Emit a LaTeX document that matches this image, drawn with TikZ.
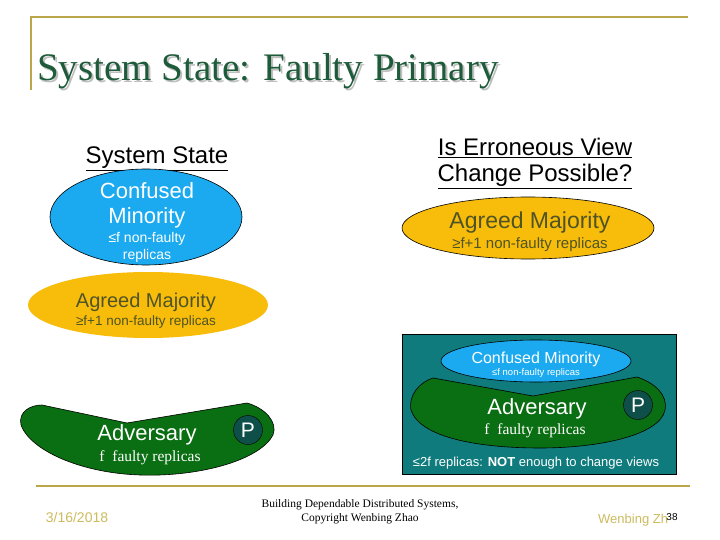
\documentclass[tikz,border=0pt]{standalone}
\usepackage{fontspec}
\setmainfont{Liberation Sans}
\newfontfamily\serifa{Liberation Serif}
\definecolor{titlegreen}{HTML}{1E5B3A}
\definecolor{cyanb}{HTML}{1BAAF0}
\definecolor{yellowb}{HTML}{F8BC0A}
\definecolor{olivetext}{HTML}{4F5426}
\definecolor{tealbox}{HTML}{0F7B7D}
\definecolor{greenb}{HTML}{0A6E12}
\definecolor{pcirc}{HTML}{0E4F4A}
\definecolor{gold}{HTML}{BBA64A}
\definecolor{footy}{HTML}{CDBB5E}
\begin{document}
\begin{tikzpicture}[x=1pt,y=-1pt,
  fs/.style={font=\fontsize{#1}{#1}\selectfont},
  fss/.style={font=\serifa\fontsize{#1}{#1}\selectfont},
  lbl/.style={inner sep=0pt,anchor=base},
  gshape/.style={fill=greenb,draw=black,line width=0.6pt},
  pnode/.style={circle,fill=pcirc,draw=black,minimum size=29pt,inner sep=0pt,text=white,font=\fontsize{21}{21}\selectfont}]
\useasboundingbox (0,0) rectangle (720,540);
\fill[white] (0,0) rectangle (720,540);
% frame
\draw[gold,line width=1.5pt] (31,90) -- (31,17) coordinate (fl) -- (688,17) coordinate (fr);
\node[lbl,anchor=base west,fss=39,text=gray!50] (tsh) at (39,83) {System State: Faulty Primary};
\node[lbl,anchor=base west,fss=39,text=titlegreen] (title) at (37,81) {System State: Faulty Primary};
% headings
\node[lbl,fs=24] (hs) at (157,164) {\underline{System State}};
\node[lbl,fs=24] (he1) at (535,156) {\underline{Is Erroneous View}};
\node[lbl,fs=24] (he2) at (535,182) {\underline{Change Possible?}};
% blue ellipse
\fill[cyanb,draw=black,line width=0.6pt] (146,217) ellipse [x radius=96,y radius=48];
\node[lbl,fs=22,text=white] (c1) at (147,199) {Confused};
\node[lbl,fs=22,text=white] (c2) at (147,224) {Minority};
\node[lbl,fs=14,text=white] (c3) at (147,243) {≤f non-faulty};
\node[lbl,fs=14,text=white] (c4) at (147,259) {replicas};
% right yellow
\fill[yellowb,draw=black,line width=0.6pt] (528,228) ellipse [x radius=126,y radius=31];
\node[lbl,fs=23,text=olivetext] (a1) at (530,229) {Agreed Majority};
\node[lbl,fs=15,text=olivetext] (a2) at (530,248) {≥f+1 non-faulty replicas};
% left yellow
\fill[yellowb] (148,305) ellipse [x radius=120,y radius=33];
\node[lbl,fs=20,text=olivetext] (b1) at (146,307) {Agreed Majority};
\node[lbl,fs=13.5,text=olivetext] (b2) at (146,325) {≥f+1 non-faulty replicas};
% left green
\path[gshape] (42,405) -- (127,423) -- (247,403)
  .. controls (265,408) and (278,422) .. (273,435)
  .. controls (260,460) and (200,477) .. (140,475)
  .. controls (80,473) and (30,450) .. (21,425)
  .. controls (18,412) and (30,405) .. cycle;
\node[lbl,fs=22,text=white] (adv1) at (147,440) {Adversary};
\node[lbl,fss=15.5,text=white] (ff1) at (150,461) {f\ \ faulty replicas};
\node[pnode] (p1) at (248,430) {P};
% teal box
\fill[tealbox,draw=black,line width=0.6pt] (402,334) rectangle (676,474);
\fill[cyanb,draw=black,line width=0.6pt] (536,361) ellipse [x radius=95,y radius=21];
\node[lbl,fs=16,text=white] (cm1) at (536,363) {Confused Minority};
\node[lbl,fs=9.5,text=white] (cm2) at (536,375) {≤f non-faulty replicas};
\path[gshape] (433,378) -- (533,396) -- (637,377)
  .. controls (655,383) and (668,395) .. (665,410)
  .. controls (660,435) and (600,448) .. (540,448)
  .. controls (480,448) and (420,438) .. (411,410)
  .. controls (408,395) and (420,382) .. cycle;
\node[lbl,fs=22,text=white] (adv2) at (537,414) {Adversary};
\node[lbl,fss=15.5,text=white] (ff2) at (535,434) {f\ \ faulty replicas};
\node[pnode] (p2) at (638,405) {P};
\node[lbl,fs=13,text=white] (nt) at (536,466) {≤2f replicas: \textbf{NOT} enough to change views};
% footer
\draw[gold,line width=1.5pt] (36,486) coordinate (f1) -- (690,486) coordinate (f2);
\node[lbl,fs=14,text=footy] (date) at (77,522) {3/16/2018};
\node[lbl,fss=11.5] (ft1) at (360,507) {Building Dependable Distributed Systems,};
\node[lbl,fss=11.5] (ft2) at (360,521) {Copyright Wenbing Zhao};
\node[lbl,anchor=base west,fs=13,text=footy] (au) at (598,523) {Wenbing Zh};
\node[lbl,fs=10] (pg) at (672,520) {38};
\end{tikzpicture}
\end{document}
